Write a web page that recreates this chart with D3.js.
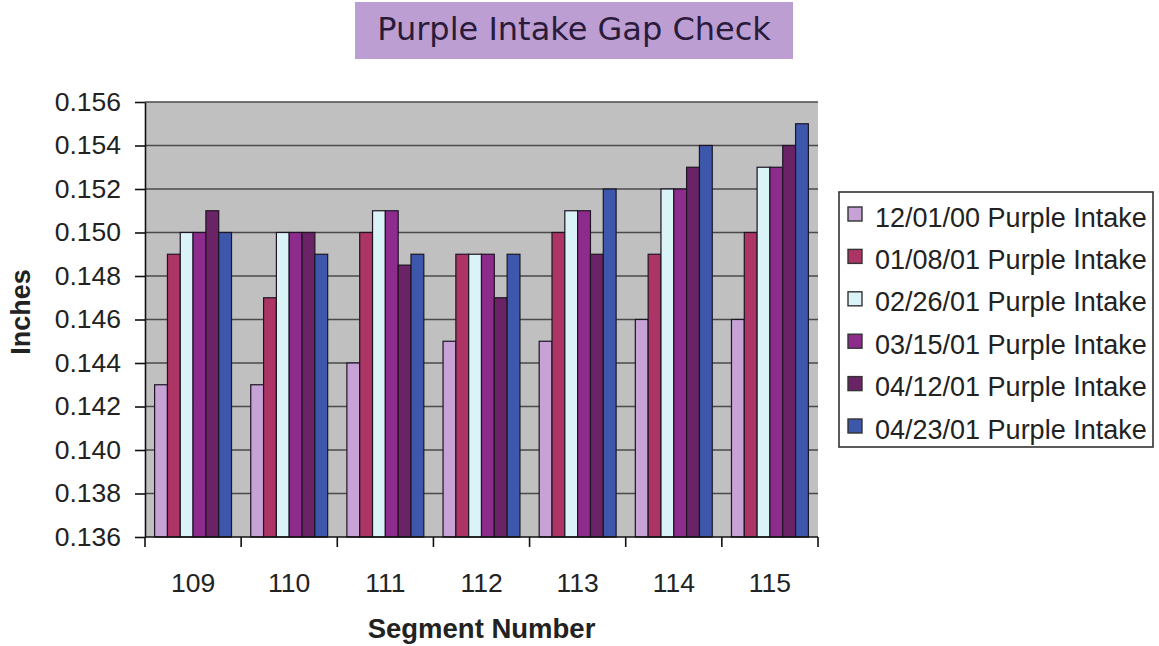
<!DOCTYPE html>
<html>
<head>
<meta charset="utf-8">
<script src="https://cdn.jsdelivr.net/npm/d3@7"></script>
<style>
  html, body { margin: 0; padding: 0; background: #ffffff; }
  svg { display: block; }
</style>
</head>
<body>
<svg id="chart" width="1159" height="646"></svg>
<script>
// Segment numbers along the x axis
const segments = ["109", "110", "111", "112", "113", "114", "115"];

// Measurement dates (one series per date)
const seriesNames = [
  "12/01/00 Purple Intake",
  "01/08/01 Purple Intake",
  "02/26/01 Purple Intake",
  "03/15/01 Purple Intake",
  "04/12/01 Purple Intake",
  "04/23/01 Purple Intake"
];

// Gap readings in inches, one array per series, ordered by segment
const gap120100 = [0.143, 0.143, 0.144, 0.145, 0.145, 0.146, 0.146];
const gap010801 = [0.149, 0.147, 0.150, 0.149, 0.150, 0.149, 0.150];
const gap022601 = [0.150, 0.150, 0.151, 0.149, 0.151, 0.152, 0.153];
const gap031501 = [0.150, 0.150, 0.151, 0.149, 0.151, 0.152, 0.153];
const gap041201 = [0.151, 0.150, 0.1485, 0.147, 0.149, 0.153, 0.154];
const gap042301 = [0.150, 0.149, 0.149, 0.149, 0.152, 0.154, 0.155];

const seriesValues = [gap120100, gap010801, gap022601, gap031501, gap041201, gap042301];

// Y axis tick labels
const yTicks = [0.136, 0.138, 0.140, 0.142, 0.144, 0.146, 0.148, 0.150, 0.152, 0.154, 0.156];

const colors = ["#c6a2d6", "#ad3566", "#d9f3f7", "#8e2c8e", "#6a2466", "#3d58ab"];

const svg = d3.select("#chart");
const plot = { left: 145, right: 818, top: 102, bottom: 537 };

const y = d3.scaleLinear()
  .domain([yTicks[0], yTicks[yTicks.length - 1]])
  .range([plot.bottom, plot.top]);

const x0 = d3.scaleBand()
  .domain(segments)
  .range([plot.left, plot.right])
  .padding(0);

// Bars occupy the middle of each category with a 150% gap width
const barW = x0.bandwidth() / 7.5;
const gap = barW * 1.5;
const x1 = d3.scaleBand()
  .domain(d3.range(seriesNames.length))
  .range([gap / 2, x0.bandwidth() - gap / 2])
  .padding(0);

// Plot background
svg.append("rect")
  .attr("x", plot.left).attr("y", plot.top)
  .attr("width", plot.right - plot.left)
  .attr("height", plot.bottom - plot.top)
  .attr("fill", "#c0c0c0");

// Horizontal gridlines
svg.append("g")
  .selectAll("line")
  .data(yTicks.slice(1))
  .join("line")
  .attr("x1", plot.left).attr("x2", plot.right)
  .attr("y1", d => y(d)).attr("y2", d => y(d))
  .attr("stroke", "#4a4a4a")
  .attr("stroke-width", 1.6);

// Bars
const groups = svg.append("g")
  .selectAll("g")
  .data(segments)
  .join("g")
  .attr("transform", d => `translate(${x0(d)},0)`);

groups.selectAll("rect")
  .data((seg, i) => seriesValues.map((vals, s) => ({ s, v: vals[i] })))
  .join("rect")
  .attr("x", d => x1(d.s))
  .attr("width", x1.bandwidth())
  .attr("y", d => y(d.v))
  .attr("height", d => y(yTicks[0]) - y(d.v))
  .attr("fill", d => colors[d.s])
  .attr("stroke", "#1e1424")
  .attr("stroke-width", 1.2);

// Y axis
const yAxis = d3.axisLeft(y)
  .tickValues(yTicks)
  .tickFormat(d3.format(".3f"))
  .tickSizeInner(10)
  .tickSizeOuter(0)
  .tickPadding(14);

const yG = svg.append("g")
  .attr("transform", `translate(${plot.left},0)`)
  .call(yAxis);
yG.select(".domain").attr("stroke", "#111").attr("stroke-width", 1.6);
yG.selectAll(".tick line").attr("stroke", "#111").attr("stroke-width", 1.6);
yG.selectAll(".tick text")
  .attr("font-family", "Liberation Sans, Arial, sans-serif")
  .attr("font-size", 26.5)
  .attr("fill", "#222");

// X axis: tick marks at category boundaries, labels at centres
const xG = svg.append("g");
xG.append("line")
  .attr("x1", plot.left).attr("x2", plot.right)
  .attr("y1", plot.bottom).attr("y2", plot.bottom)
  .attr("stroke", "#111").attr("stroke-width", 1.6);
xG.selectAll("line.tk")
  .data(segments.concat(["end"]))
  .join("line")
  .attr("class", "tk")
  .attr("x1", d => d === "end" ? plot.right : x0(d))
  .attr("x2", d => d === "end" ? plot.right : x0(d))
  .attr("y1", plot.bottom).attr("y2", plot.bottom + 10)
  .attr("stroke", "#111").attr("stroke-width", 1.6);
xG.selectAll("text")
  .data(segments)
  .join("text")
  .attr("x", d => x0(d) + x0.bandwidth() / 2)
  .attr("y", 592)
  .attr("text-anchor", "middle")
  .attr("font-family", "Liberation Sans, Arial, sans-serif")
  .attr("font-size", 26.5)
  .attr("fill", "#222")
  .text(d => d);

// Axis titles
svg.append("text")
  .attr("x", (plot.left + plot.right) / 2)
  .attr("y", 638)
  .attr("text-anchor", "middle")
  .attr("font-family", "Liberation Sans, Arial, sans-serif")
  .attr("font-weight", "bold")
  .attr("font-size", 27.5)
  .attr("fill", "#222")
  .text("Segment Number");

svg.append("text")
  .attr("transform", "translate(30,312) rotate(-90)")
  .attr("text-anchor", "middle")
  .attr("font-family", "Liberation Sans, Arial, sans-serif")
  .attr("font-weight", "bold")
  .attr("font-size", 27)
  .attr("fill", "#222")
  .text("Inches");

// Title banner
svg.append("rect")
  .attr("x", 355).attr("y", 2)
  .attr("width", 438).attr("height", 57)
  .attr("fill", "#bd9ed3");
svg.append("text")
  .attr("x", 574).attr("y", 40)
  .attr("text-anchor", "middle")
  .attr("font-family", "DejaVu Sans, sans-serif")
  .attr("font-size", 32)
  .attr("fill", "#2b1b3b")
  .text("Purple Intake Gap Check");

// Legend
const legend = svg.append("g");
legend.append("rect")
  .attr("x", 839).attr("y", 192)
  .attr("width", 314).attr("height", 255)
  .attr("fill", "#ffffff")
  .attr("stroke", "#333").attr("stroke-width", 1.6);

const rowH = 42.4;
const items = legend.selectAll("g.item")
  .data(seriesNames)
  .join("g")
  .attr("class", "item")
  .attr("transform", (d, i) => `translate(0,${i * rowH})`);
items.append("rect")
  .attr("x", 848).attr("y", 207)
  .attr("width", 14).attr("height", 14)
  .attr("fill", (d, i) => colors[i])
  .attr("stroke", "#333").attr("stroke-width", 1.4);
items.append("text")
  .attr("x", 875).attr("y", 226.5)
  .attr("font-family", "Liberation Sans, Arial, sans-serif")
  .attr("font-size", 27)
  .attr("fill", "#222")
  .text(d => d);
</script>
</body>
</html>
